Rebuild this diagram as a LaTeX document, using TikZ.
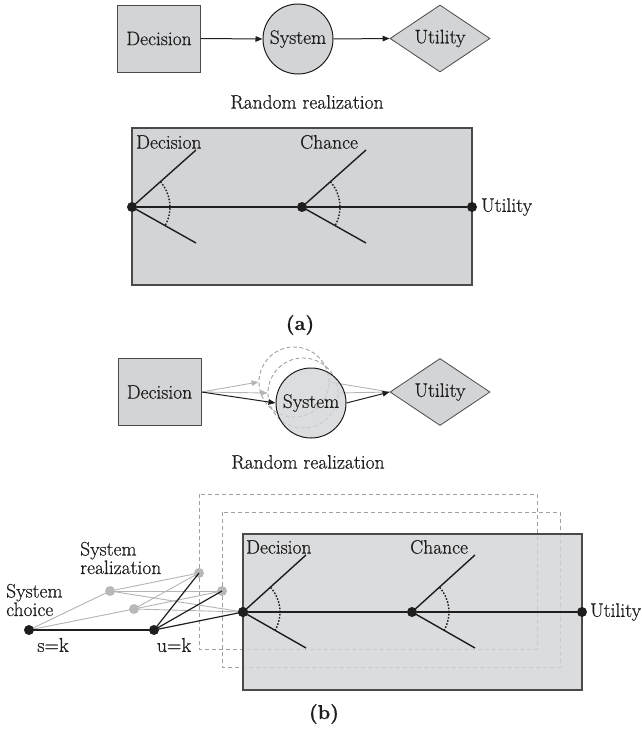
\documentclass[tikz,border=0pt]{standalone}
\usepackage{fontspec}
\setmainfont{Latin Modern Roman}[FakeBold=0.6]
\newfontfamily\heavy{Latin Modern Roman}[FakeBold=0.6]
\usetikzlibrary{shapes.geometric,arrows.meta}
\definecolor{boxgray}{HTML}{D3D4D6}
\definecolor{edgegray}{HTML}{4A4A4A}
\definecolor{lightline}{HTML}{B4B4B4}
\definecolor{dotgray}{HTML}{B8B8B8}
\definecolor{dashgray}{HTML}{A0A0A0}
\definecolor{ink}{HTML}{1E1E1E}
\begin{document}
\begin{tikzpicture}[x=1pt,y=-1pt,
  lbl/.style={font=\heavy\fontsize{19.5}{20}\selectfont, text=ink, inner sep=0pt},
  sublbl/.style={font=\fontsize{20}{22}\selectfont\bfseries, text=ink, inner sep=0pt},
  eqlbl/.style={font=\heavy\fontsize{20}{22}\selectfont, text=ink, inner sep=0pt},
  decbox/.style={rectangle, draw=edgegray, line width=1pt, fill=boxgray, minimum width=83pt, minimum height=67pt, inner sep=0pt, font=\heavy\fontsize{19.5}{20}\selectfont, text=ink},
  syscirc/.style={circle, draw=ink, line width=1pt, fill=boxgray, minimum size=70pt, inner sep=0pt, font=\heavy\fontsize{19.5}{20}\selectfont, text=ink},
  ghostcirc/.style={circle, draw=dashgray, dash pattern=on 4pt off 2.5pt, line width=0.9pt, minimum size=70pt, inner sep=0pt},
  utildia/.style={diamond, aspect=1.5, draw=edgegray, line width=0.8pt, fill=boxgray, minimum width=100pt, minimum height=67pt, inner sep=0pt, font=\heavy\fontsize{19.5}{20}\selectfont, text=ink},
  arr/.style={-{Triangle[length=7pt,width=5.5pt]}, line width=1pt, draw=ink},
  garr/.style={-{Triangle[length=7pt,width=5.5pt]}, line width=0.9pt, draw=lightline},
  treebox/.style={rectangle, draw=edgegray, line width=1.6pt, fill=boxgray, minimum width=340pt, minimum height=157pt, inner sep=0pt},
  dashbox/.style={draw=dashgray, dash pattern=on 4pt off 3pt, line width=1pt},
  bdot/.style={circle, fill=ink, minimum size=10pt, inner sep=0pt},
  gdot/.style={circle, fill=dotgray, minimum size=10pt, inner sep=0pt},
  branch/.style={line width=1.4pt, draw=ink},
  gline/.style={line width=0.9pt, draw=lightline},
  arcdots/.style={dash pattern=on 1.6pt off 1.6pt, line width=1.4pt, draw=ink}
]
\useasboundingbox (0,0) rectangle (641,736);

% ---------------- (a) influence diagram ----------------
\node[decbox] (aD) at (159,38.5) {Decision};
\node[syscirc] (aS) at (298,39) {System};
\node[utildia] (aU) at (440,38.5) {Utility};
\draw[arr] (aD.east) -- (aS.west);
\draw[arr] (aS.east) -- (aU.west);
\node[lbl] (aR) at (307,102) {Random realization};

% ---------------- (a) decision tree ----------------
\node[treebox] (aT) at (302,206.5) {};
\node[bdot] (ad) at (132,207) {};
\node[bdot] (ac) at (302,207) {};
\node[bdot] (au) at (472,207) {};
\coordinate (adu) at (196,150);
\coordinate (add) at (196,243);
\coordinate (acu) at (366,150);
\coordinate (acd) at (366,243);
\draw[branch] (ad) -- (ac);
\draw[branch] (ac) -- (au);
\draw[branch] (ad.center) -- (adu);
\draw[branch] (ad.center) -- (add);
\draw[branch] (ac.center) -- (acu);
\draw[branch] (ac.center) -- (acd);
\draw[arcdots] (ad.center) ++(-41.7:38) arc[start angle=-41.7, end angle=29.4, radius=38];
\draw[arcdots] (ac.center) ++(-41.7:38) arc[start angle=-41.7, end angle=29.4, radius=38];
\node[lbl, anchor=west] (adl) at (136,142) {Decision};
\node[lbl, anchor=west] (acl) at (300,142) {Chance};
\node[lbl, anchor=west] (aul) at (481,207) {Utility};
\node[sublbl] (alab) at (300,325) {(a)};

% ---------------- (b) influence diagram ----------------
\node[decbox] (bD) at (159.5,392) {Decision};
\node[utildia] (bU) at (440,392) {Utility};
\node[ghostcirc] (c1) at (294,382) {};
\node[ghostcirc] (c2) at (303,393) {};
\draw[garr] (bD.east) -- (c1.west);
\draw[garr] (bD.east) -- (c2.west);
\draw[gline] (c1.east) -- (bU.west);
\draw[gline] (c2.east) -- (bU.west);
\node[syscirc, fill opacity=0.8, text opacity=1] (bS) at (311,403) {System};
\draw[arr] (bD.east) -- (bS.west);
\draw[arr] (bS.east) -- (bU.west);
\node[lbl] (bR) at (308,462) {Random realization};

% ---------------- (b) decision trees ----------------
\draw[dashbox] (199,494) rectangle (537,649);
\draw[dashbox] (222,512) rectangle (560,667);
\node[treebox, fill opacity=0.82, minimum width=339pt, minimum height=156pt] (bT) at (412.5,612) {};
\node[bdot] (bd) at (243,612) {};
\node[bdot] (bc) at (412,612) {};
\node[bdot] (bu) at (582,612) {};
\coordinate (bdu) at (306,555);
\coordinate (bdd) at (306,648);
\coordinate (bcu) at (475,555);
\coordinate (bcd) at (475,648);
\draw[branch] (bd) -- (bc);
\draw[branch] (bc) -- (bu);
\draw[branch] (bd.center) -- (bdu);
\draw[branch] (bd.center) -- (bdd);
\draw[branch] (bc.center) -- (bcu);
\draw[branch] (bc.center) -- (bcd);
\draw[arcdots] (bd.center) ++(-41.7:37) arc[start angle=-41.7, end angle=29.4, radius=37];
\draw[arcdots] (bc.center) ++(-41.7:37) arc[start angle=-41.7, end angle=29.4, radius=37];
\node[lbl, anchor=west] (bdl) at (246,547) {Decision};
\node[lbl, anchor=west] (bcl) at (410,547) {Chance};
\node[lbl, anchor=west] (bul) at (590,612) {Utility};

% ---------------- system choice / realization ----------------
\coordinate (sc) at (29,630);
\coordinate (uc) at (154,630);
\coordinate (g1c) at (110,591);
\coordinate (g2c) at (134,609);
\coordinate (g3c) at (199,573);
\coordinate (g4c) at (222,591);
\draw[gline] (sc) -- (g1c);
\draw[gline] (sc) -- (g2c);
\draw[gline] (g1c) -- (g3c);
\draw[gline] (g1c) -- (g4c);
\draw[gline] (g1c) -- (bd.center);
\draw[gline] (g2c) -- (g3c);
\draw[gline] (g2c) -- (g4c);
\draw[gline] (g2c) -- (bd.center);
\node[gdot] (g1) at (g1c) {};
\node[gdot] (g2) at (g2c) {};
\node[gdot] (g3) at (g3c) {};
\node[gdot] (g4) at (g4c) {};
\draw[branch] (sc) -- (uc);
\draw[line width=1.2pt, draw=ink] (uc) -- (g3c);
\draw[line width=1.2pt, draw=ink] (uc) -- (g4c);
\draw[line width=1.2pt, draw=ink] (uc) -- (bd.center);
\node[bdot] (s) at (sc) {};
\node[bdot] (u) at (uc) {};
\node[bdot] at (bd.center) {};
\node[eqlbl] (sl) at (53,645) {s=k};
\node[eqlbl] (ul) at (174,645) {u=k};
\node[lbl, anchor=west, align=left, font=\heavy\fontsize{19.5}{16}\selectfont] (scl) at (6,600) {System\\choice};
\node[lbl, anchor=west, align=left, font=\heavy\fontsize{19.5}{17}\selectfont] (srl) at (80,558) {System\\realization};
\node[sublbl] (blab) at (324,714) {(b)};
\end{tikzpicture}
\end{document}
